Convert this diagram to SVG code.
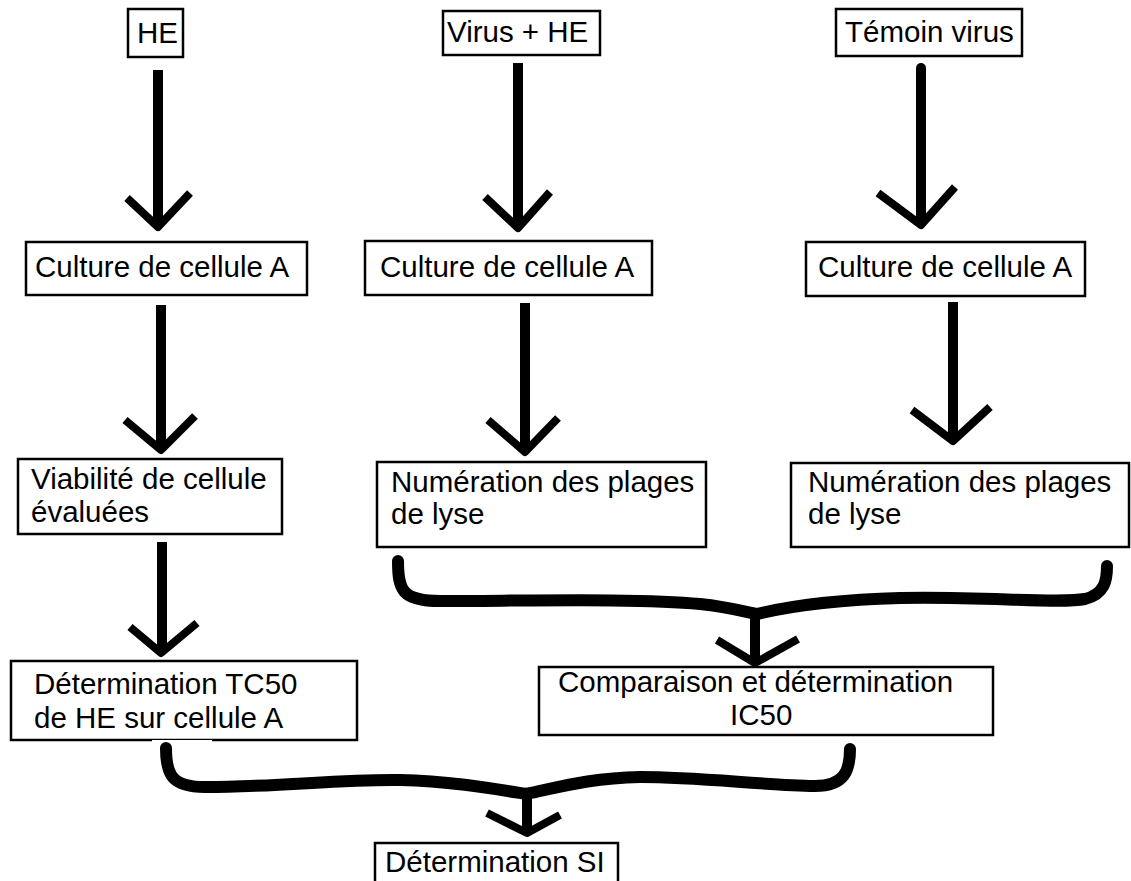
<svg xmlns="http://www.w3.org/2000/svg" width="1131" height="881" viewBox="0 0 1131 881">
<style>
.box{fill:#fff;stroke:#000;stroke-width:2.5}
.t{font-family:"Liberation Sans",Arial,sans-serif;font-size:29.5px;fill:#000}
.shaft{stroke:#000;stroke-width:10;fill:none}
.head{stroke:#000;stroke-width:8;fill:none;stroke-linejoin:round}
.brace{stroke:#000;stroke-width:12;fill:none;stroke-linecap:round}
</style>
<rect width="1131" height="881" fill="#fff"/>
<g id="connectors">
<line class="shaft" x1="158" y1="70" x2="158" y2="225"/>
<polyline class="head" points="127,198 158,227 190,193"/>
<line class="shaft" x1="518" y1="63" x2="518" y2="225"/>
<polyline class="head" points="485,197 518,228 550,192"/>
<line class="shaft" x1="921" y1="68" x2="921" y2="222" stroke-linecap="round"/>
<polyline class="head" points="878,193 921,225 955,187"/>
<line class="shaft" x1="161" y1="305" x2="161" y2="447"/>
<polyline class="head" points="125,420 161,450 195,416"/>
<line class="shaft" x1="162" y1="542" x2="162" y2="650"/>
<polyline class="head" points="130,627 161,653 197,623"/>
<line class="shaft" x1="525" y1="303" x2="525" y2="449"/>
<polyline class="head" points="488,420 525,452 558,418"/>
<line class="shaft" x1="953" y1="302" x2="953" y2="438"/>
<polyline class="head" points="912,410 953,441 990,407"/>
<path class="brace" d="M398,561 C398,590 402,601 440,601 C520,601 640,598 700,604 C728,607 742,611 757,614 M757,614 C790,606 830,600 900,598 C980,596 1060,604 1085,599 C1105,594 1107,580 1107,566"/>
<line class="shaft" x1="755" y1="614" x2="755" y2="660"/>
<polyline class="head" points="717,640 755,663 798,639"/>
<path class="brace" d="M166,748 C166,775 172,787 205,787 C280,787 340,779 400,780 C450,781 495,789 526,794 M526,794 C560,787 590,778 640,777 C700,777 760,785 815,786 C845,786 850,770 850,749"/>
<line class="shaft" x1="527" y1="793" x2="527" y2="831"/>
<polyline class="head" points="487,813 527,833 560,815"/>
</g>
<g id="n-he">
<rect class="box" x="128" y="9" width="55" height="48"/>
<text class="t" x="137" y="43">HE</text>
</g>
<g id="n-virus-he">
<rect class="box" x="443" y="11" width="157" height="44"/>
<text class="t" x="447" y="42">Virus + HE</text>
</g>
<g id="n-temoin">
<rect class="box" x="836" y="9" width="186" height="47"/>
<text class="t" x="845" y="42">Témoin virus</text>
</g>
<g id="n-culture1">
<rect class="box" x="26" y="242" width="281" height="53"/>
<text class="t" x="35" y="277">Culture de cellule A</text>
</g>
<g id="n-culture2">
<rect class="box" x="365" y="241" width="287" height="54"/>
<text class="t" x="380" y="277">Culture de cellule A</text>
</g>
<g id="n-culture3">
<rect class="box" x="806" y="242" width="279" height="54"/>
<text class="t" x="818" y="277">Culture de cellule A</text>
</g>
<g id="n-viabilite">
<rect class="box" x="18" y="459" width="264" height="75"/>
<text class="t" x="31" y="489">Viabilité de cellule</text>
<text class="t" x="31" y="522">évaluées</text>
</g>
<g id="n-numeration1">
<rect class="box" x="377" y="462" width="329" height="85"/>
<text class="t" x="391" y="492">Numération des plages</text>
<text class="t" x="391" y="524">de lyse</text>
</g>
<g id="n-numeration2">
<rect class="box" x="791" y="463" width="338" height="84"/>
<text class="t" x="808" y="492">Numération des plages</text>
<text class="t" x="808" y="524">de lyse</text>
</g>
<g id="n-tc50">
<rect class="box" x="11" y="661" width="346" height="79"/>
<rect x="152" y="740" width="60" height="2" fill="#fff"/>
<text class="t" x="34" y="694">Détermination TC50</text>
<text class="t" x="34" y="728">de HE sur cellule A</text>
</g>
<g id="n-ic50">
<rect class="box" x="539" y="667" width="454" height="68"/>
<text class="t" x="558" y="692">Comparaison et détermination</text>
<text class="t" x="730" y="725">IC50</text>
</g>
<g id="n-si">
<rect class="box" x="375" y="843" width="243" height="50"/>
<text class="t" x="385" y="872">Détermination SI</text>
</g>
</svg>
